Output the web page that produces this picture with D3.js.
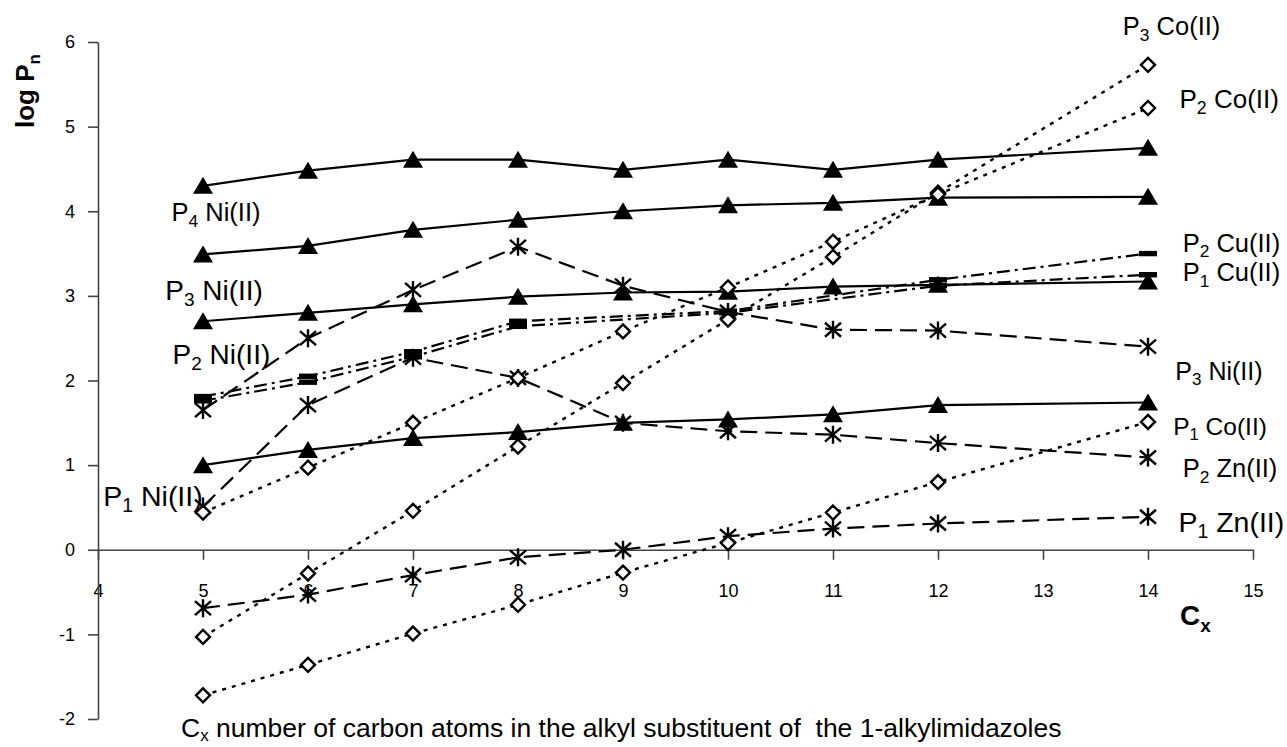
<!DOCTYPE html>
<html>
<head>
<meta charset="utf-8">
<script src="https://cdn.jsdelivr.net/npm/d3@7"></script>
<style>
  html, body { margin: 0; padding: 0; background: #fff; }
  svg { display: block; }
  text { font-family: "Liberation Sans", Arial, sans-serif; fill: #000; }
</style>
</head>
<body>
<svg id="chart" width="1287" height="747"></svg>
<script>
// ---------- data ----------
const cx = [5, 6, 7, 8, 9, 10, 11, 12, 14];
const cxCu = [5, 6, 7, 8, 10, 12, 14];

const p4Ni = [4.30, 4.48, 4.61, 4.61, 4.49, 4.61, 4.49, 4.61, 4.75];
const p3Ni = [3.49, 3.59, 3.78, 3.90, 4.00, 4.07, 4.10, 4.16, 4.17];
const p2Ni = [2.70, 2.80, 2.90, 2.99, 3.04, 3.05, 3.11, 3.13, 3.17];
const p1Ni = [1.00, 1.18, 1.32, 1.39, 1.50, 1.54, 1.60, 1.71, 1.74];

const star3 = [1.65, 2.50, 3.07, 3.58, 3.12, 2.81, 2.60, 2.59, 2.40];
const p2Zn = [0.51, 1.71, 2.27, 2.03, 1.50, 1.40, 1.36, 1.26, 1.09];
const p1Zn = [-0.69, -0.53, -0.30, -0.09, 0.00, 0.16, 0.25, 0.31, 0.39];

const p3Co = [-1.03, -0.28, 0.46, 1.22, 1.97, 2.72, 3.46, 4.22, 5.73];
const p2Co = [0.44, 0.97, 1.50, 2.03, 2.58, 3.10, 3.64, 4.20, 5.22];
const p1Co = [-1.72, -1.36, -0.99, -0.65, -0.27, 0.08, 0.44, 0.80, 1.51];

const p2Cu = [1.81, 2.05, 2.34, 2.70, 2.82, 3.19, 3.50];
const p1Cu = [1.76, 1.98, 2.28, 2.64, 2.80, 3.12, 3.25];

const xTicks = [4, 5, 6, 7, 8, 9, 10, 11, 12, 13, 14, 15];
const yTicks = [-2, -1, 0, 1, 2, 3, 4, 5, 6];

// label text pieces and data-space anchor
const labels = [
  {p: "P", s: "4", t: " Ni(II)", x: 4.70, y: 3.88, size: 25.5},
  {p: "P", s: "3", t: " Ni(II)", x: 4.64, y: 2.95, size: 28},
  {p: "P", s: "2", t: " Ni(II)", x: 4.71, y: 2.20, size: 28},
  {p: "P", s: "1", t: " Ni(II)", x: 4.05, y: 0.52, size: 28.5},
  {p: "P", s: "3", t: " Co(II)", x: 13.76, y: 6.08, size: 25.5},
  {p: "P", s: "2", t: " Co(II)", x: 14.30, y: 5.22, size: 26},
  {p: "P", s: "2", t: " Cu(II)", x: 14.33, y: 3.52, size: 25.5},
  {p: "P", s: "1", t: " Cu(II)", x: 14.33, y: 3.17, size: 25.5},
  {p: "P", s: "3", t: " Ni(II)", x: 14.26, y: 2.01, size: 25},
  {p: "P", s: "1", t: " Co(II)", x: 14.24, y: 1.36, size: 24.5},
  {p: "P", s: "2", t: " Zn(II)", x: 14.33, y: 0.86, size: 25.5},
  {p: "P", s: "1", t: " Zn(II)", x: 14.29, y: 0.21, size: 28.5}
];

// ---------- setup ----------
const svg = d3.select("#chart");
const x = d3.scaleLinear().domain([4, 15]).range([98, 1253]);
const y = d3.scaleLinear().domain([-2, 6]).range([719, 42]);

const fmt = d => String(d);
const xAxis = d3.axisBottom(x).tickValues(xTicks).tickSize(10).tickSizeOuter(0).tickFormat(fmt);
const yAxis = d3.axisLeft(y).tickValues(yTicks).tickSize(10).tickSizeOuter(0).tickFormat(fmt);

const gx = svg.append("g").attr("transform", `translate(0,${y(0)})`).call(xAxis);
gx.attr("font-size", 18).attr("font-family", "Liberation Sans, Arial");
gx.select(".domain").attr("stroke", "#444").attr("stroke-width", 1.6);
gx.selectAll(".tick line").attr("stroke", "#444").attr("stroke-width", 1.6);
gx.selectAll(".tick text").attr("fill", "#000").attr("y", 47).attr("dy", 0);

const gy = svg.append("g").attr("transform", `translate(${x(4)},0)`).call(yAxis);
gy.attr("font-size", 18).attr("font-family", "Liberation Sans, Arial");
gy.select(".domain").attr("stroke", "#444").attr("stroke-width", 1.6);
gy.selectAll(".tick line").attr("stroke", "#444").attr("stroke-width", 1.6);
gy.selectAll(".tick text").attr("fill", "#000").attr("x", -23);

// ---------- series ----------
const series = [
  {xs: cx, ys: p4Ni, dash: null, marker: "tri"},
  {xs: cx, ys: p3Ni, dash: null, marker: "tri"},
  {xs: cx, ys: p2Ni, dash: null, marker: "tri"},
  {xs: cx, ys: p1Ni, dash: null, marker: "tri"},
  {xs: cx, ys: star3, dash: "17,8", marker: "star"},
  {xs: cx, ys: p2Zn, dash: "17,8", marker: "star"},
  {xs: cx, ys: p1Zn, dash: "17,8", marker: "star"},
  {xs: cx, ys: p3Co, dash: "4,6", marker: "dia"},
  {xs: cx, ys: p2Co, dash: "4,6", marker: "dia"},
  {xs: cx, ys: p1Co, dash: "4,6", marker: "dia"},
  {xs: cxCu, ys: p2Cu, dash: "13,5,3,5", marker: "bar"},
  {xs: cxCu, ys: p1Cu, dash: "13,5,3,5", marker: "bar"}
];

const line = d3.line().x(d => x(d[0])).y(d => y(d[1]));

const gl = svg.append("g");
series.forEach(s => {
  const pts = s.xs.map((v, i) => [v, s.ys[i]]);
  gl.append("path")
    .attr("d", line(pts))
    .attr("fill", "none")
    .attr("stroke", "#000")
    .attr("stroke-width", s.marker === "dia" ? 2.4 : 2.2)
    .attr("stroke-dasharray", s.dash);
});

const gm = svg.append("g");
const markerPaths = {
  tri: "M0,-9L10,8L-10,8Z",
  dia: "M0,-7L7,0L0,7L-7,0Z",
  star: "M0,-9V9M-8,-7L8,7M-8,7L8,-7",
  bar: "M-9,-2.7H9V2.7H-9Z"
};
series.forEach(s => {
  s.xs.forEach((v, i) => {
    const g = gm.append("path")
      .attr("transform", `translate(${x(v)},${y(s.ys[i])})`)
      .attr("d", markerPaths[s.marker]);
    if (s.marker === "tri" || s.marker === "bar") {
      g.attr("fill", "#000").attr("stroke", "none");
    } else if (s.marker === "dia") {
      g.attr("fill", "#fff").attr("stroke", "#000").attr("stroke-width", 2.4);
    } else {
      g.attr("fill", "none").attr("stroke", "#000").attr("stroke-width", 2.4);
    }
  });
});

// ---------- series labels ----------
const gt = svg.append("g");
labels.forEach(l => {
  const t = gt.append("text")
    .attr("x", x(l.x)).attr("y", y(l.y))
    .attr("font-size", l.size);
  t.append("tspan").text(l.p);
  t.append("tspan").attr("font-size", l.size * 0.68).attr("dy", l.size * 0.22).text(l.s);
  t.append("tspan").attr("dy", -l.size * 0.22).text(l.t);
});

// ---------- axis titles ----------
const yt = svg.append("text")
  .attr("transform", "translate(34,128) rotate(-90)")
  .attr("font-size", 26).attr("font-weight", "bold");
yt.append("tspan").text("log P");
yt.append("tspan").attr("font-size", 17).attr("dy", 6).text("n");

const xt = svg.append("text")
  .attr("x", 1180).attr("y", 625)
  .attr("font-size", 28).attr("font-weight", "bold");
xt.append("tspan").text("C");
xt.append("tspan").attr("font-size", 19).attr("dy", 7).text("x");

const bt = svg.append("text")
  .attr("x", 181).attr("y", 737)
  .attr("font-size", 26.5);
bt.append("tspan").text("C");
bt.append("tspan").attr("font-size", 17).attr("dy", 3.5).text("x");
bt.append("tspan").attr("dy", -3.5).attr("xml:space", "preserve").text(" number of carbon atoms in the alkyl substituent of  the 1-alkylimidazoles");
</script>
</body>
</html>
